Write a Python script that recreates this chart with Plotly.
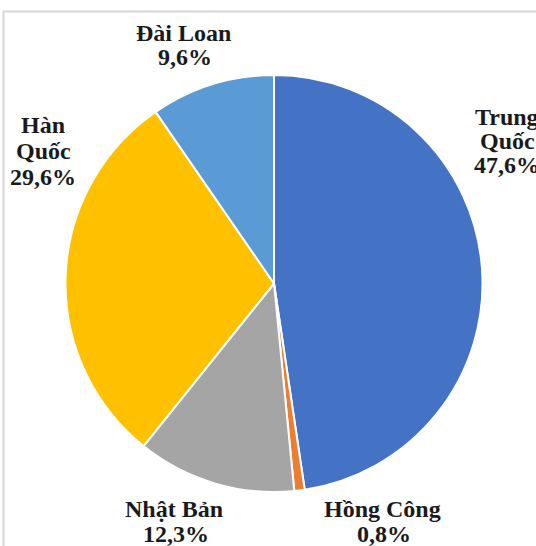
import plotly.graph_objects as go

# Market shares (%)
names = ["Trung Quốc", "Hồng Công", "Nhật Bản", "Hàn Quốc", "Đài Loan"]
values = [47.6, 0.8, 12.3, 29.6, 9.6]
colors = ["#4472C4", "#ED7D31", "#A5A5A5", "#FFC000", "#5B9BD5"]

W, H = 536, 546

# How each label is broken into lines, and where each line sits
# (centre x, centre y of every line, in pixels from the top-left corner)
label_lines = [
    ["Trung", "Quốc"],
    ["Hồng Công"],
    ["Nhật Bản"],
    ["Hàn", "Quốc"],
    ["Đài Loan"],
]
line_pos = [
    [(507, 117), (507, 141), (507, 165)],
    [(382, 509), (384, 534)],
    [(174, 509), (176, 534)],
    [(43, 125), (43, 151), (43, 177)],
    [(183, 33), (185, 57)],
]


def fmt(v):
    return f"{v:.1f}".replace(".", ",") + "%"


fig = go.Figure(
    go.Pie(
        labels=names,
        values=values,
        sort=False,
        direction="clockwise",
        rotation=0,
        marker=dict(colors=colors, line=dict(color="white", width=2)),
        textinfo="none",
        hoverinfo="label+percent",
        showlegend=False,
        domain=dict(x=[65 / W, 483 / W], y=[(H - 492) / H, (H - 75) / H]),
    )
)

annotations = []
for lines, v, positions in zip(label_lines, values, line_pos):
    texts = lines + [fmt(v)]
    for t, (px, py) in zip(texts, positions):
        annotations.append(
            dict(
                x=px / W,
                y=1 - py / H,
                xref="paper",
                yref="paper",
                text=f"<b>{t}</b>",
                showarrow=False,
                xanchor="center",
                yanchor="middle",
                font=dict(family="Liberation Serif", size=24, color="#1a1a1a"),
            )
        )

# Chart area frame (top and left edges)
shapes = [
    dict(type="line", xref="paper", yref="paper", x0=3 / W, x1=1.0,
         y0=1 - 11.5 / H, y1=1 - 11.5 / H, line=dict(color="#d6d6d6", width=2)),
    dict(type="line", xref="paper", yref="paper", x0=3.5 / W, x1=3.5 / W,
         y0=0, y1=1 - 11 / H, line=dict(color="#d6d6d6", width=2)),
]

fig.update_layout(
    width=W,
    height=H,
    margin=dict(l=0, r=0, t=0, b=0),
    paper_bgcolor="white",
    plot_bgcolor="white",
    annotations=annotations,
    shapes=shapes,
)

fig.write_html("out.html")
